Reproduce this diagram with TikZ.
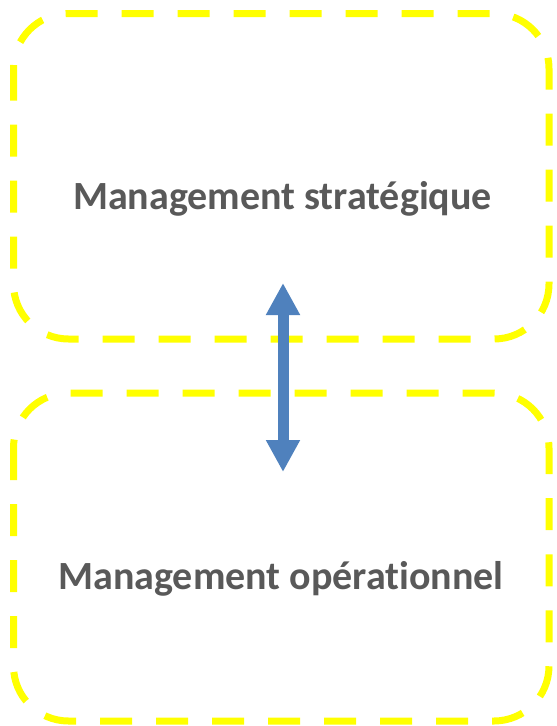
\documentclass[tikz,border=0pt]{standalone}
\usepackage{fontspec}
\setmainfont[Ligatures={NoCommon}]{Carlito}
\usetikzlibrary{arrows.meta}
\definecolor{boxyellow}{HTML}{FFFF00}
\definecolor{arrowblue}{HTML}{4F81BD}
\definecolor{txtgray}{HTML}{595959}
\begin{document}
\begin{tikzpicture}[x=1pt,y=-1pt,
  mgmtbox/.style={draw=boxyellow, line width=7pt, dash pattern=on 32pt off 24pt, rounded corners=55pt},
  mgmtlabel/.style={font=\fontsize{40}{46}\selectfont\bfseries, text=txtgray, inner sep=0pt, anchor=base},
  link/.style={draw=arrowblue, line width=11pt, {Triangle[width=32pt,length=32pt]}-{Triangle[width=32pt,length=32pt]}}]
\useasboundingbox (0,0) rectangle (557,726);
\draw[mgmtbox] (13.5,13.5) rectangle (549,339);
\draw[mgmtbox] (13.5,393) rectangle (549,721);
\node[mgmtlabel] (strat) at (282.5,209) {Management stratégique};
\node[mgmtlabel] (oper) at (281,589) {Management opérationnel};
\coordinate (top) at (283,283);
\coordinate (bot) at (283,472);
\draw[link] (top) -- (bot);
\end{tikzpicture}
\end{document}
